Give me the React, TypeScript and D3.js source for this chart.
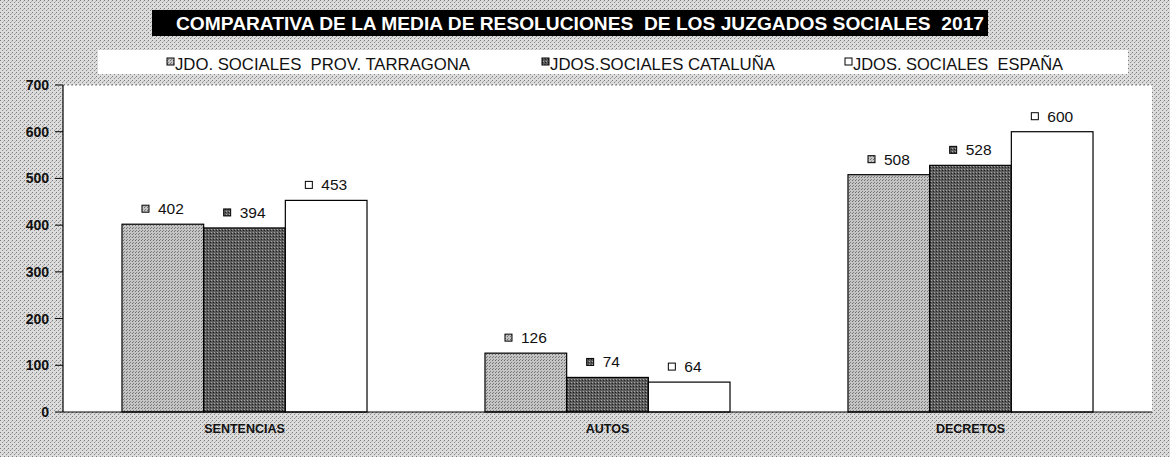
import React from 'react';
import * as d3 from 'd3';

// datos del gráfico
const categories = ['SENTENCIAS', 'AUTOS', 'DECRETOS'];
const seriesNames = ['JDO. SOCIALES  PROV. TARRAGONA', 'JDOS.SOCIALES CATALUÑA', 'JDOS. SOCIALES  ESPAÑA'];
const tarragona = [402, 126, 508];
const cataluna = [394, 74, 528];
const espana = [453, 64, 600];
const yTicks = [0, 100, 200, 300, 400, 500, 600, 700];
const title = 'COMPARATIVA DE LA MEDIA DE RESOLUCIONES  DE LOS JUZGADOS SOCIALES  2017';

const W = 1170;
const H = 457;
const plot = { left: 63, right: 1152, top: 85, bottom: 412 };
const fills = ['url(#pLight)', 'url(#pDark)', '#ffffff'];
const legendX = [167, 542, 845];
const legendLen = [295, 225, 210];

const App = () => {
  const series = [tarragona, cataluna, espana];

  const x = d3.scaleBand<string>()
    .domain(categories)
    .range([plot.left, plot.right])
    .paddingInner(0.325)
    .paddingOuter(0.1625);

  const xs = d3.scaleBand<number>()
    .domain([0, 1, 2])
    .range([0, x.bandwidth()]);

  const y = d3.scaleLinear()
    .domain([0, 700])
    .range([plot.bottom, plot.top]);

  const font = 'Arial, "Liberation Sans", sans-serif';

  return (
    <svg width={W} height={H} style={{ position: 'absolute', left: 0, top: 0, whiteSpace: 'pre' }} fontFamily={font}>
      <defs>
        <pattern id="pBg" width="4" height="4" patternUnits="userSpaceOnUse">
          <rect width="4" height="4" fill="#dcdcdc" />
          <rect x="0" y="0" width="1" height="1" fill="#7a7a7a" />
          <rect x="2" y="2" width="1" height="1" fill="#8a8a8a" />
          <rect x="3" y="1" width="1" height="1" fill="#b0b0b0" />
        </pattern>
        <pattern id="pLight" width="3" height="3" patternUnits="userSpaceOnUse">
          <rect width="3" height="3" fill="#c4c4c4" />
          <rect x="0" y="0" width="1" height="1" fill="#707070" />
          <rect x="1" y="2" width="1" height="1" fill="#808080" />
        </pattern>
        <pattern id="pDark" width="3" height="3" patternUnits="userSpaceOnUse">
          <rect width="3" height="3" fill="#5c5c5c" />
          <rect x="1" y="1" width="1" height="1" fill="#a8a8a8" />
          <rect x="0" y="2" width="1" height="1" fill="#202020" />
        </pattern>
      </defs>

      {/* fondo */}
      <rect x={0} y={0} width={W} height={H} fill="url(#pBg)" />

      {/* título */}
      <rect x={152} y={10} width={836} height={26} fill="#000" />
      <text x={176} y={30} fill="#fff" fontWeight="bold" fontSize={19} textLength={808} lengthAdjust="spacingAndGlyphs" xmlSpace="preserve">
        {title}
      </text>

      {/* leyenda */}
      <rect x={98} y={50} width={1030} height={24} fill="#fff" />
      {seriesNames.map((name, i) => (
        <g key={name} transform={`translate(${legendX[i]},0)`}>
          <rect x={0} y={58} width={7} height={7} fill={fills[i]} stroke="#000" strokeWidth={1} />
          <text x={8} y={70} fontSize={17} fill="#111" textLength={legendLen[i]} lengthAdjust="spacingAndGlyphs" xmlSpace="preserve">{name}</text>
        </g>
      ))}

      {/* área de trazado */}
      <rect x={plot.left} y={plot.top} width={plot.right - plot.left} height={plot.bottom - plot.top} fill="#fff" />
      <line x1={plot.left} x2={plot.right} y1={plot.top} y2={plot.top} stroke="#888" strokeDasharray="2,2" />

      {/* barras */}
      {categories.map((cat, ci) => (
        <g key={cat}>
          {series.map((vals, si) => {
            const bx = (x(cat) as number) + (xs(si) as number);
            const by = y(vals[ci]);
            const bw = xs.bandwidth();
            return (
              <g key={si}>
                <rect x={bx} y={by} width={bw} height={plot.bottom - by} fill={fills[si]} stroke="#000" strokeWidth={1.2} />
                <rect x={bx + 20} y={by - 19} width={7} height={7} fill={fills[si]} stroke="#000" strokeWidth={1} />
                <text x={bx + 36} y={by - 10} fontSize={15.5} fill="#111">{vals[ci]}</text>
              </g>
            );
          })}
          <text x={(x(cat) as number) + x.bandwidth() / 2} y={433} textAnchor="middle" fontSize={12.5} fontWeight="bold" fill="#111">
            {cat}
          </text>
        </g>
      ))}

      {/* eje Y */}
      <line x1={plot.left} x2={plot.left} y1={plot.top} y2={plot.bottom} stroke="#000" strokeWidth={1.2} />
      <line x1={plot.left} x2={plot.right} y1={plot.bottom} y2={plot.bottom} stroke="#000" strokeWidth={1.2} />
      {yTicks.map(t => (
        <g key={t} transform={`translate(0,${y(t)})`}>
          <line x1={plot.left - 8} x2={plot.left} stroke="#000" />
          <text x={plot.left - 14} y={5} textAnchor="end" fontSize={14} fontWeight="bold" fill="#111">{t}</text>
        </g>
      ))}
    </svg>
  );
};

export default App;
